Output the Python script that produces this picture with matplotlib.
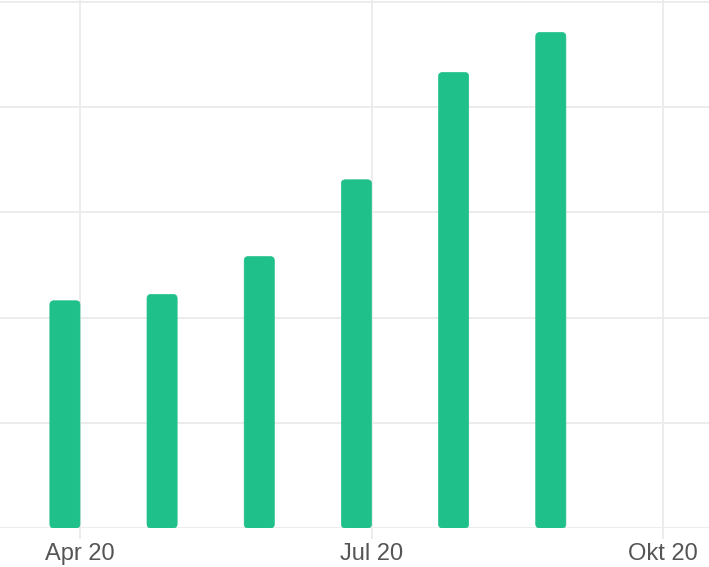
import matplotlib
matplotlib.use("Agg")
import matplotlib.pyplot as plt
from matplotlib.patches import FancyBboxPatch

# monthly values, x = month number of 2020 (bar right edge sits on the month start)
months = [4, 5, 6, 7, 8, 9]
values = [216, 222, 258, 331, 433, 471]

tick_months = [4, 7, 10]
tick_labels = ["Apr 20", "Jul 20", "Okt 20"]
y_grid = [0, 100, 200, 300, 400, 500]

GREEN = "#20c08a"
GRID = "#ebebeb"

fig = plt.figure(figsize=(7.09, 5.67), dpi=100)
ax = fig.add_axes([0, 39 / 567, 1, 528 / 567])

bars = ax.bar(months, values, width=-0.31, align="edge", color=GREEN, zorder=3)

# swap plain rectangles for rounded ones
for b in bars:
    bb = b.get_bbox()
    x0, x1 = min(bb.x0, bb.x1), max(bb.x0, bb.x1)
    patch = FancyBboxPatch((x0, bb.y0), x1 - x0, bb.y1 - bb.y0,
                           boxstyle="round,pad=0,rounding_size=0.041",
                           mutation_aspect=92,
                           facecolor=GREEN, edgecolor=GREEN, linewidth=0.5, zorder=3)
    ax.add_patch(patch)
    b.set_visible(False)

ax.set_xlim(3.177, 10.473)
ax.set_ylim(0, 501.9)

ax.set_xticks(tick_months)
ax.set_xticklabels(tick_labels)
ax.set_yticks(y_grid)

ax.grid(True, color=GRID, linewidth=1.3, zorder=0)
ax.set_axisbelow(True)
for s in ax.spines.values():
    s.set_visible(False)

ax.tick_params(axis="x", length=8, width=1.3, color=GRID, pad=3,
               labelsize=17, labelcolor="#555555")
for t in ax.get_xticklabels():
    t.set_fontfamily(["Liberation Sans", "DejaVu Sans"])
ax.tick_params(axis="y", length=0, labelleft=False)

fig.savefig("out.png", dpi=100)
